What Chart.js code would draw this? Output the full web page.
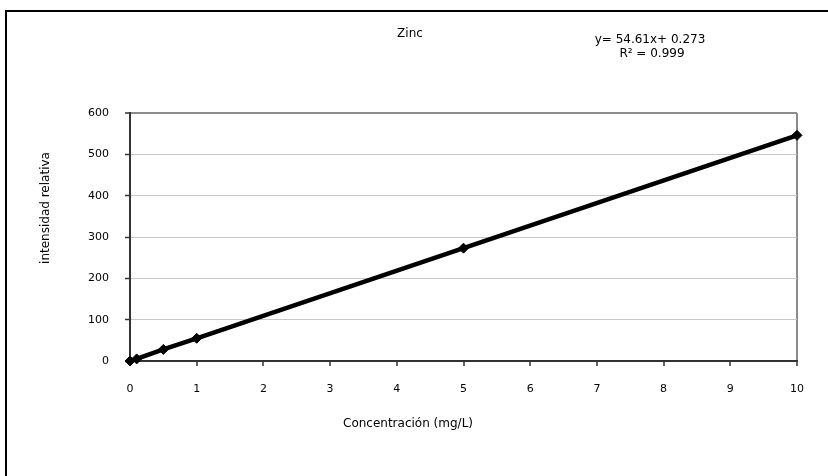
<!DOCTYPE html>
<html>
<head>
<meta charset="utf-8">
<script src="https://cdn.jsdelivr.net/npm/chart.js@4/dist/chart.umd.min.js"></script>
<style>
  html, body { margin: 0; padding: 0; background: #fff; }
  #wrap { position: relative; width: 828px; height: 476px; }
</style>
</head>
<body>
<div id="wrap"><canvas id="zincChart" width="828" height="476"></canvas></div>
<script>
// datos de la curva de calibración
const concentracion = [0, 0.1, 0.5, 1, 5, 10];
const intensidad = [0, 5, 28, 55, 273, 546];

const tituloGrafico = 'Zinc';
const ecuacion = ['y= 54.61x+ 0.273', 'R² = 0.999'];
const tituloX = 'Concentración (mg/L)';
const tituloY = 'intensidad relativa';

const FONT = '"DejaVu Sans", Arial, sans-serif';

// marco exterior y textos (posiciones como en la hoja original)
const textos = {
    id: 'textos',
    beforeDraw(chart) {
        const ctx = chart.ctx;
        ctx.save();
        ctx.strokeStyle = '#000';
        ctx.lineWidth = 2;
        ctx.strokeRect(6, 11, 1000, 1000);
        ctx.restore();
    },
    afterDraw(chart) {
        const ctx = chart.ctx;
        ctx.save();
        ctx.fillStyle = '#000';
        ctx.textAlign = 'center';
        ctx.textBaseline = 'middle';
        ctx.font = '12px ' + FONT;
        ctx.fillText(tituloGrafico, 410, 34);
        ctx.fillText(ecuacion[0], 650, 40);
        ctx.fillText(ecuacion[1], 652, 54);
        ctx.fillText(tituloX, 408, 424);
        ctx.translate(46, 208);
        ctx.rotate(-Math.PI / 2);
        ctx.fillText(tituloY, 0, 0);
        ctx.restore();
    }
};

new Chart(document.getElementById('zincChart'), {
    type: 'scatter',
    data: {
        datasets: [{
            data: concentracion.map((c, i) => ({ x: c, y: intensidad[i] })),
            showLine: true,
            borderColor: '#000',
            backgroundColor: '#000',
            borderWidth: 4.5,
            pointStyle: 'rectRot',
            pointRadius: 5,
            pointBorderWidth: 1,
            pointBackgroundColor: '#000',
            pointBorderColor: '#000',
            clip: false
        }]
    },
    options: {
        responsive: false,
        animation: false,
        layout: { padding: { left: 0, top: 113, right: 31, bottom: 44 } },
        plugins: { legend: { display: false }, tooltip: { enabled: false } },
        scales: {
            x: {
                type: 'linear',
                min: 0, max: 10,
                afterFit(scale) { scale.height = 71; },
                ticks: { stepSize: 1, color: '#000', padding: 17, font: { family: FONT, size: 11 } },
                grid: {
                    color: c => c.tick && c.tick.value === 10 ? '#8c8c8c' : 'rgba(0,0,0,0)',
                    lineWidth: 2,
                    tickColor: '#333',
                    tickWidth: 1.5,
                    tickLength: 5
                },
                border: { color: '#333', width: 2 }
            },
            y: {
                min: 0, max: 600,
                afterFit(scale) { scale.width = 130; },
                ticks: { stepSize: 100, color: '#000', padding: 16, font: { family: FONT, size: 11 } },
                grid: {
                    color: c => {
                        if (!c.tick) return '#c8c8c8';
                        if (c.tick.value === 600) return '#8c8c8c';
                        if (c.tick.value === 0) return 'rgba(0,0,0,0)';
                        return '#c8c8c8';
                    },
                    lineWidth: c => c.tick && c.tick.value === 600 ? 2 : 1,
                    tickColor: '#333',
                    tickWidth: 1.5,
                    tickLength: 5
                },
                border: { color: '#333', width: 2 }
            }
        }
    },
    plugins: [textos]
});
</script>
</body>
</html>
